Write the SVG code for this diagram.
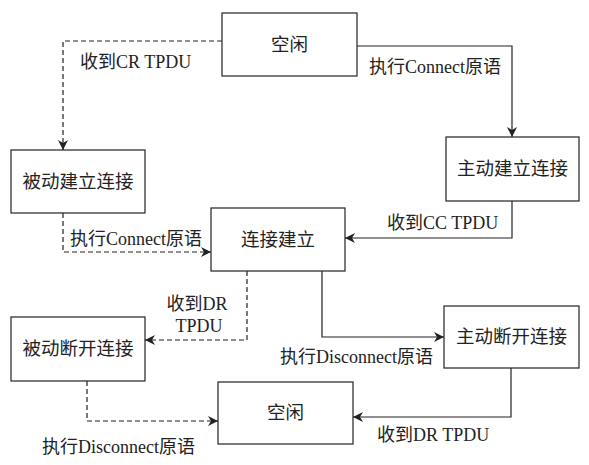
<svg xmlns="http://www.w3.org/2000/svg" width="589" height="465" viewBox="0 0 589 465">
<style>
.box{fill:#fff;stroke:#222;stroke-width:1.2}
.nt{font-family:"Liberation Serif","Noto Sans CJK SC",serif;font-size:18.5px;fill:#222;text-anchor:middle}
.lb{font-family:"Liberation Serif","Noto Sans CJK SC",serif;font-size:18px;fill:#222}
.c{fill:none;stroke:#222;stroke-width:1.2}
.d{stroke-dasharray:5 3}
</style>
<defs>
<marker id="ah" viewBox="0 0 10 10" refX="10" refY="5" markerWidth="10" markerHeight="10" markerUnits="userSpaceOnUse" orient="auto">
<path d="M0,0 L10,5 L0,10 L3,5 Z" fill="#222"/>
</marker>
</defs>
<rect width="589" height="465" fill="#fff"/>
<g id="idle-top"><rect class="box" x="222" y="13" width="135" height="63"/><text class="nt" x="289.5" y="51">空闲</text></g>
<g id="passive-open"><rect class="box" x="11" y="150" width="134" height="63"/><text class="nt" x="78" y="188">被动建立连接</text></g>
<g id="active-open"><rect class="box" x="446" y="137" width="133" height="64"/><text class="nt" x="512.5" y="175">主动建立连接</text></g>
<g id="established"><rect class="box" x="211" y="208" width="134" height="63"/><text class="nt" x="278" y="246">连接建立</text></g>
<g id="passive-close"><rect class="box" x="11" y="317" width="134" height="64"/><text class="nt" x="78" y="355">被动断开连接</text></g>
<g id="active-close"><rect class="box" x="444" y="306" width="135" height="62"/><text class="nt" x="511.5" y="343">主动断开连接</text></g>
<g id="idle-bottom"><rect class="box" x="218" y="382" width="135" height="62"/><text class="nt" x="285.5" y="419">空闲</text></g>
<g id="connectors">
<path class="c d" d="M222,41 H63 V150" marker-end="url(#ah)"/>
<path class="c" d="M357,46 H512 V137" marker-end="url(#ah)"/>
<path class="c" d="M512,201 V238 H345" marker-end="url(#ah)"/>
<path class="c d" d="M63,213 V252 H211" marker-end="url(#ah)"/>
<path class="c d" d="M247,271 V340 H145" marker-end="url(#ah)"/>
<path class="c" d="M322,271 V337 H444" marker-end="url(#ah)"/>
<path class="c d" d="M87,381 V421 H218" marker-end="url(#ah)"/>
<path class="c" d="M511,368 V417 H353" marker-end="url(#ah)"/>
<text class="lb" x="80" y="68">收到CR TPDU</text>
<text class="lb" x="369" y="73">执行Connect原语</text>
<text class="lb" x="387" y="229">收到CC TPDU</text>
<text class="lb" x="70" y="245">执行Connect原语</text>
<text class="lb" x="197" y="310" text-anchor="middle">收到DR</text>
<text class="lb" x="199" y="332" text-anchor="middle">TPDU</text>
<text class="lb" x="280" y="363">执行Disconnect原语</text>
<text class="lb" x="42" y="453">执行Disconnect原语</text>
<text class="lb" x="377" y="441">收到DR TPDU</text>
</g>
</svg>
